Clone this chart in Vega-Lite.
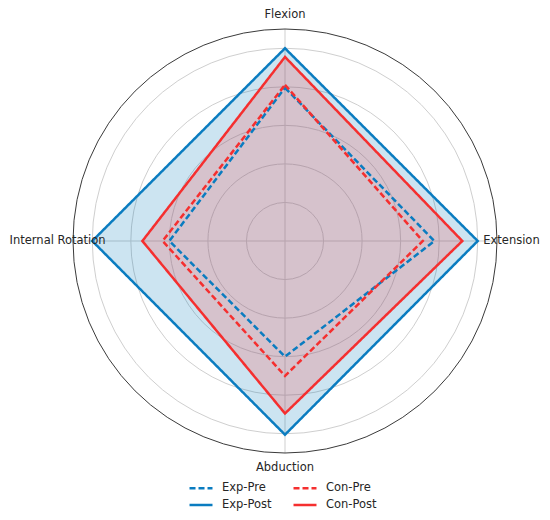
{
  "$schema": "https://vega.github.io/schema/vega-lite/v6.json",
  "autosize": {"type": "none"},
  "width": 424,
  "height": 424,
  "padding": {"left": 73, "top": 29, "right": 53, "bottom": 67},
  "background": "white",
  "config": {
    "view": {"stroke": null},
    "font": "DejaVu Sans",
    "legend": {"padding": 0}
  },
  "layer": [
    {
      "data": {"values": [{"r": 20}, {"r": 40}, {"r": 60}, {"r": 80}, {"r": 100}]},
      "mark": {"type": "arc", "filled": false, "fill": null, "stroke": "#cfcfcf", "strokeWidth": 1, "theta": 0, "theta2": 6.2832},
      "encoding": {
        "radius": {"field": "r", "type": "quantitative", "stack": null, "scale": {"type": "linear", "domain": [0, 110], "range": [0, 212], "zero": true}}
      }
    },
    {
      "data": {"values": [{"x": 0, "y": -110, "x2": 0, "y2": 110}, {"x": -110, "y": 0, "x2": 110, "y2": 0}]},
      "mark": {"type": "rule", "stroke": "#cfcfcf", "strokeWidth": 1},
      "encoding": {
        "x": {"field": "x", "type": "quantitative", "scale": {"domain": [-110, 110], "nice": false, "zero": false}, "axis": null},
        "y": {"field": "y", "type": "quantitative", "scale": {"domain": [-110, 110], "nice": false, "zero": false}, "axis": null},
        "x2": {"field": "x2"},
        "y2": {"field": "y2"}
      }
    },
    {
      "data": {"values": [{"r": 110}]},
      "mark": {"type": "arc", "filled": false, "fill": null, "stroke": "#3a3a3a", "strokeWidth": 1, "theta": 0, "theta2": 6.2832},
      "encoding": {
        "radius": {"field": "r", "type": "quantitative", "stack": null, "scale": {"type": "linear", "domain": [0, 110], "range": [0, 212], "zero": true}}
      }
    },
    {
      "data": {"values": [
        {"series": "Exp-Post", "axis": "Flexion", "k": 0, "x": 0, "y": 100},
        {"series": "Exp-Post", "axis": "Extension", "k": 1, "x": 100, "y": 0},
        {"series": "Exp-Post", "axis": "Abduction", "k": 2, "x": 0, "y": -100.5},
        {"series": "Exp-Post", "axis": "Internal Rotation", "k": 3, "x": -100, "y": 0}
      ]},
      "mark": {"type": "line", "interpolate": "linear-closed", "fill": "#0077bb", "fillOpacity": 0.2, "stroke": null, "strokeWidth": 0},
      "encoding": {
        "x": {"field": "x", "type": "quantitative"},
        "y": {"field": "y", "type": "quantitative"},
        "order": {"field": "k"}
      }
    },
    {
      "data": {"values": [
        {"series": "Con-Post", "axis": "Flexion", "k": 0, "x": 0, "y": 95.5},
        {"series": "Con-Post", "axis": "Extension", "k": 1, "x": 92, "y": 0},
        {"series": "Con-Post", "axis": "Abduction", "k": 2, "x": 0, "y": -89.5},
        {"series": "Con-Post", "axis": "Internal Rotation", "k": 3, "x": -74, "y": 0}
      ]},
      "mark": {"type": "line", "interpolate": "linear-closed", "fill": "#ff3c3c", "fillOpacity": 0.2, "stroke": null, "strokeWidth": 0},
      "encoding": {
        "x": {"field": "x", "type": "quantitative"},
        "y": {"field": "y", "type": "quantitative"},
        "order": {"field": "k"}
      }
    },
    {
      "data": {"values": [
        {"series": "Exp-Pre", "axis": "Flexion", "k": 0, "x": 0, "y": 79.5},
        {"series": "Exp-Pre", "axis": "Extension", "k": 1, "x": 77.5, "y": 0},
        {"series": "Exp-Pre", "axis": "Abduction", "k": 2, "x": 0, "y": -60},
        {"series": "Exp-Pre", "axis": "Internal Rotation", "k": 3, "x": -60, "y": 0},
        {"series": "Exp-Post", "axis": "Flexion", "k": 0, "x": 0, "y": 100},
        {"series": "Exp-Post", "axis": "Extension", "k": 1, "x": 100, "y": 0},
        {"series": "Exp-Post", "axis": "Abduction", "k": 2, "x": 0, "y": -100.5},
        {"series": "Exp-Post", "axis": "Internal Rotation", "k": 3, "x": -100, "y": 0},
        {"series": "Con-Pre", "axis": "Flexion", "k": 0, "x": 0, "y": 81},
        {"series": "Con-Pre", "axis": "Extension", "k": 1, "x": 71.5, "y": 0},
        {"series": "Con-Pre", "axis": "Abduction", "k": 2, "x": 0, "y": -70},
        {"series": "Con-Pre", "axis": "Internal Rotation", "k": 3, "x": -63.5, "y": 0},
        {"series": "Con-Post", "axis": "Flexion", "k": 0, "x": 0, "y": 95.5},
        {"series": "Con-Post", "axis": "Extension", "k": 1, "x": 92, "y": 0},
        {"series": "Con-Post", "axis": "Abduction", "k": 2, "x": 0, "y": -89.5},
        {"series": "Con-Post", "axis": "Internal Rotation", "k": 3, "x": -74, "y": 0}
      ]},
      "mark": {"type": "line", "interpolate": "linear-closed", "strokeWidth": 2.5},
      "encoding": {
        "x": {"field": "x", "type": "quantitative"},
        "y": {"field": "y", "type": "quantitative"},
        "order": {"field": "k"},
        "color": {
          "field": "series", "type": "nominal",
          "scale": {"domain": ["Exp-Pre", "Con-Pre", "Exp-Post", "Con-Post"], "range": ["#0a7cc0", "#f52f2f", "#0a7cc0", "#f52f2f"]},
          "legend": {
            "orient": "none", "legendX": 121, "legendY": 452, "direction": "horizontal", "columns": 2,
            "title": null, "symbolType": "M-2,0H2", "symbolSize": 132, "symbolStrokeWidth": 2.5,
            "labelFontSize": 11.5, "labelColor": "#262626", "labelOffset": 14, "columnPadding": 16, "rowPadding": 4
          }
        },
        "strokeDash": {
          "field": "series", "type": "nominal",
          "scale": {"domain": ["Exp-Pre", "Con-Pre", "Exp-Post", "Con-Post"], "range": [[6, 3], [6, 3], [1, 0], [1, 0]]},
          "legend": {
            "orient": "none", "legendX": 121, "legendY": 452, "direction": "horizontal", "columns": 2,
            "title": null, "symbolType": "M-2,0H2", "symbolSize": 132, "symbolStrokeWidth": 2.5,
            "labelFontSize": 11.5, "labelColor": "#262626", "labelOffset": 14, "columnPadding": 16, "rowPadding": 4
          }
        }
      }
    },
    {
      "data": {"values": [
        {"label": "Flexion", "x": 0, "y": 117.5},
        {"label": "Extension", "x": 117.5, "y": 0},
        {"label": "Abduction", "x": 0, "y": -117.8},
        {"label": "Internal Rotation", "x": -118, "y": 0}
      ]},
      "mark": {"type": "text", "fontSize": 11.5, "color": "#262626", "align": "center", "baseline": "middle"},
      "encoding": {
        "x": {"field": "x", "type": "quantitative"},
        "y": {"field": "y", "type": "quantitative"},
        "text": {"field": "label"}
      }
    }
  ]
}
